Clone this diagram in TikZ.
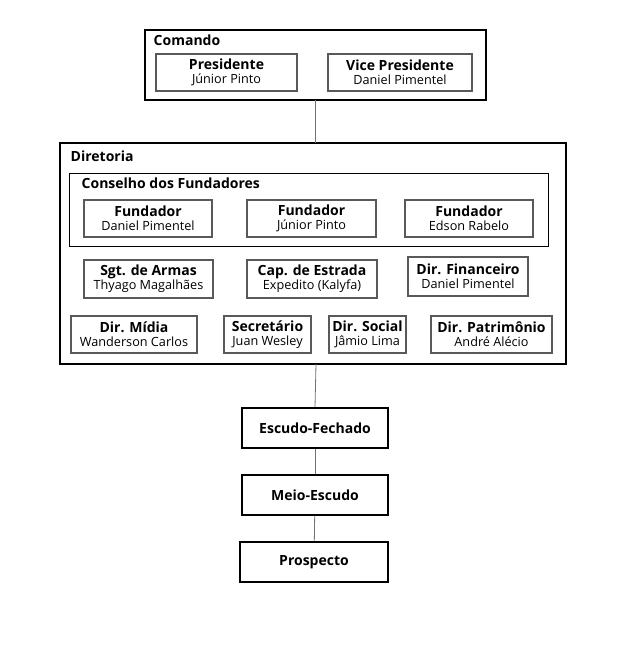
\documentclass[tikz,border=0pt]{standalone}
\usepackage{fontspec}
\setmainfont{Open Sans}
\usetikzlibrary{positioning}
\tikzset{
    group/.style={draw=black, line width=1.6pt, fill=white},
    inner/.style={draw=black!65, line width=1.4pt, fill=white, inner sep=0pt, align=center,
        font=\fontsize{9.5}{10.5}\selectfont},
    rank/.style={draw=black, line width=1.4pt, fill=white, inner sep=0pt,
        font=\fontsize{10.5}{12}\selectfont\bfseries},
    link/.style={draw=black!55, line width=0.6pt},
}
\newcommand{\member}[2]{\textbf{\fontsize{10.5}{12}\selectfont #1}\\#2}
\begin{document}
\begin{tikzpicture}[x=0.75pt, y=-0.75pt]
    \useasboundingbox (0,0) rectangle (634,663);

    % Comando
    \draw[group] (145,30) rectangle (486,100);
    \node[anchor=north west, font=\fontsize{10.5}{12}\selectfont\bfseries] (cmd) at (149,30) {Comando};
    \node[inner, minimum width=141*0.75pt, minimum height=37*0.75pt] (pres) at (226.5,72.5) {\member{Presidente}{Júnior Pinto}};
    \node[inner, minimum width=144*0.75pt, minimum height=37*0.75pt] (vice) at (400,72.5) {\member{Vice Presidente}{Daniel Pimentel}};
    \coordinate (cmdB) at (315,100);

    % Diretoria
    \draw[group] (60,143) rectangle (566,364);
    \coordinate (dirT) at (315,143);
    \coordinate (dirB) at (316,364);
    \node[anchor=north west, font=\fontsize{10.5}{12}\selectfont\bfseries] (dir) at (66,146) {Diretoria};
    \draw[draw=black, line width=0.6pt] (69,173) rectangle (548,246);
    \node[anchor=north west, font=\fontsize{10.5}{12}\selectfont\bfseries] (cons) at (77,173) {Conselho dos Fundadores};
    \node[inner, minimum width=128*0.75pt, minimum height=37*0.75pt] (fun1) at (148,218.5) {\member{Fundador}{Daniel Pimentel}};
    \node[inner, minimum width=129*0.75pt, minimum height=37*0.75pt] (fun2) at (311.5,218.5) {\member{Fundador}{Júnior Pinto}};
    \node[inner, minimum width=128*0.75pt, minimum height=37*0.75pt] (fun3) at (469,218.5) {\member{Fundador}{Edson Rabelo}};

    \node[inner, minimum width=129*0.75pt, minimum height=38*0.75pt] (sgt) at (148.5,279) {\member{Sgt. de Armas}{Thyago Magalhães}};
    \node[inner, minimum width=130*0.75pt, minimum height=38*0.75pt] (cap) at (312,279) {\member{Cap. de Estrada}{Expedito (Kalyfa)}};
    \node[inner, minimum width=120*0.75pt, minimum height=39*0.75pt] (fin) at (468,276.5) {\member{Dir. Financeiro}{Daniel Pimentel}};

    \node[inner, minimum width=126*0.75pt, minimum height=37*0.75pt] (midia) at (134,334.5) {\member{Dir. Mídia}{Wanderson Carlos}};
    \node[inner, minimum width=87*0.75pt, minimum height=37*0.75pt] (sec) at (267.5,334.5) {\member{Secretário}{Juan Wesley}};
    \node[inner, minimum width=77*0.75pt, minimum height=37*0.75pt] (soc) at (367.5,334.5) {\member{Dir. Social}{Jâmio Lima}};
    \node[inner, minimum width=121*0.75pt, minimum height=37*0.75pt] (pat) at (491.5,334.5) {\member{Dir. Patrimônio}{André Alécio}};

    % Ranks
    \node[rank, minimum width=146*0.75pt, minimum height=40*0.75pt] (esc) at (315,428) {Escudo-Fechado};
    \node[rank, minimum width=146*0.75pt, minimum height=40*0.75pt] (meio) at (315,495) {Meio-Escudo};
    \node[rank, minimum width=148*0.75pt, minimum height=40*0.75pt] (pros) at (314,562) {Prospecto};

    % Connectors
    \draw[link] (cmdB) -- (dirT);
    \draw[link] (dirB) -- (esc.north);
    \draw[link] (esc) -- (meio);
    \draw[link] (meio) -- (pros);
\end{tikzpicture}
\end{document}
